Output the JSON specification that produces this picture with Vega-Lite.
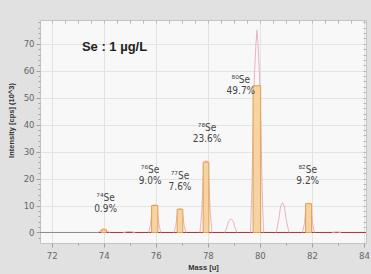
{
  "$schema": "https://vega.github.io/schema/vega-lite/v6.json",
  "autosize": {"type": "none"},
  "width": 326,
  "height": 223,
  "padding": {"left": 40, "top": 20, "right": 5, "bottom": 31},
  "background": "#e1e1e1",
  "config": {
    "view": {"fill": "#f8f8f8", "stroke": "#c4c4c4"},
    "axis": {
      "labelFont": "Liberation Sans Narrow, DejaVu Sans Condensed, sans-serif",
      "labelFontSize": 9.5,
      "labelColor": "#666666",
      "labelOverlap": false,
      "tickColor": "#a0a0a0",
      "tickSize": 3,
      "gridColor": "#e3e3e3",
      "domain": false,
      "titleFont": "Liberation Sans",
      "titleFontWeight": "bold",
      "titleFontSize": 7.5,
      "titleColor": "#333333"
    }
  },
  "resolve": {"axis": {"x": "independent", "y": "independent"}},
  "datasets": {
    "profile": [
      {"peak": "74", "mass": 73.77, "cps": 0}, {"peak": "74", "mass": 73.86, "cps": 0.6}, {"peak": "74", "mass": 73.95, "cps": 1.4}, {"peak": "74", "mass": 74.05, "cps": 1.3}, {"peak": "74", "mass": 74.15, "cps": 0.5}, {"peak": "74", "mass": 74.23, "cps": 0},
      {"peak": "75", "mass": 74.75, "cps": 0}, {"peak": "75", "mass": 74.9, "cps": 0.35}, {"peak": "75", "mass": 75.05, "cps": 0.35}, {"peak": "75", "mass": 75.2, "cps": 0},
      {"peak": "76", "mass": 75.73, "cps": 0}, {"peak": "76", "mass": 75.8, "cps": 3}, {"peak": "76", "mass": 75.86, "cps": 8.3}, {"peak": "76", "mass": 75.91, "cps": 10.2}, {"peak": "76", "mass": 76.01, "cps": 10.2}, {"peak": "76", "mass": 76.06, "cps": 8.3}, {"peak": "76", "mass": 76.12, "cps": 3}, {"peak": "76", "mass": 76.19, "cps": 0},
      {"peak": "77", "mass": 76.7, "cps": 0}, {"peak": "77", "mass": 76.77, "cps": 2.6}, {"peak": "77", "mass": 76.83, "cps": 7}, {"peak": "77", "mass": 76.88, "cps": 8.8}, {"peak": "77", "mass": 76.98, "cps": 8.8}, {"peak": "77", "mass": 77.03, "cps": 7}, {"peak": "77", "mass": 77.09, "cps": 2.6}, {"peak": "77", "mass": 77.16, "cps": 0},
      {"peak": "78", "mass": 77.7, "cps": 0}, {"peak": "78", "mass": 77.77, "cps": 8}, {"peak": "78", "mass": 77.83, "cps": 21.5}, {"peak": "78", "mass": 77.88, "cps": 26.5}, {"peak": "78", "mass": 77.98, "cps": 26.5}, {"peak": "78", "mass": 78.03, "cps": 21.5}, {"peak": "78", "mass": 78.09, "cps": 8}, {"peak": "78", "mass": 78.16, "cps": 0},
      {"peak": "79", "mass": 78.65, "cps": 0}, {"peak": "79", "mass": 78.73, "cps": 1.8}, {"peak": "79", "mass": 78.8, "cps": 4.2}, {"peak": "79", "mass": 78.86, "cps": 4.9}, {"peak": "79", "mass": 78.92, "cps": 4.8}, {"peak": "79", "mass": 78.99, "cps": 3.8}, {"peak": "79", "mass": 79.05, "cps": 1.6}, {"peak": "79", "mass": 79.12, "cps": 0},
      {"peak": "80", "mass": 79.64, "cps": 0}, {"peak": "80", "mass": 79.7, "cps": 18}, {"peak": "80", "mass": 79.75, "cps": 45}, {"peak": "80", "mass": 79.8, "cps": 60}, {"peak": "80", "mass": 79.85, "cps": 70}, {"peak": "80", "mass": 79.89, "cps": 75}, {"peak": "80", "mass": 79.93, "cps": 70}, {"peak": "80", "mass": 79.98, "cps": 60}, {"peak": "80", "mass": 80.04, "cps": 40}, {"peak": "80", "mass": 80.09, "cps": 15}, {"peak": "80", "mass": 80.14, "cps": 0},
      {"peak": "81", "mass": 80.63, "cps": 0}, {"peak": "81", "mass": 80.72, "cps": 4.5}, {"peak": "81", "mass": 80.8, "cps": 9.8}, {"peak": "81", "mass": 80.87, "cps": 11}, {"peak": "81", "mass": 80.94, "cps": 9.8}, {"peak": "81", "mass": 81.02, "cps": 4.5}, {"peak": "81", "mass": 81.12, "cps": 0},
      {"peak": "82", "mass": 81.64, "cps": 0}, {"peak": "82", "mass": 81.71, "cps": 3.2}, {"peak": "82", "mass": 81.77, "cps": 8.8}, {"peak": "82", "mass": 81.82, "cps": 10.8}, {"peak": "82", "mass": 81.92, "cps": 10.8}, {"peak": "82", "mass": 81.97, "cps": 8.8}, {"peak": "82", "mass": 82.03, "cps": 3.2}, {"peak": "82", "mass": 82.1, "cps": 0},
      {"peak": "83", "mass": 82.78, "cps": 0}, {"peak": "83", "mass": 82.95, "cps": 0.3}, {"peak": "83", "mass": 83.12, "cps": 0}
    ],
    "baseline": [
      {"mass": 73.8, "cps": 0}, {"mass": 84.2, "cps": 0}
    ],
    "zero": [
      {"mass": 71.55, "cps": 0}, {"mass": 84.08, "cps": 0}
    ],
    "bars": [
      {"iso": "74", "lo": 73.9, "hi": 74.1, "base": 0, "cps": 1.0},
      {"iso": "76", "lo": 75.84, "hi": 76.08, "base": 0, "cps": 10.0},
      {"iso": "77", "lo": 76.82, "hi": 77.04, "base": 0, "cps": 8.6},
      {"iso": "78", "lo": 77.82, "hi": 78.04, "base": 0, "cps": 26.1},
      {"iso": "80", "lo": 79.74, "hi": 80.03, "base": 0, "cps": 54.4},
      {"iso": "82", "lo": 81.76, "hi": 81.99, "base": 0, "cps": 10.7}
    ],
    "labels": [
      {"iso": "⁷⁴Se", "pct": "0.9%", "mass": 74.07, "ylab": 12.8, "ypct": 8.8},
      {"iso": "⁷⁶Se", "pct": "9.0%", "mass": 75.78, "ylab": 23.2, "ypct": 19.2},
      {"iso": "⁷⁷Se", "pct": "7.6%", "mass": 76.93, "ylab": 21.0, "ypct": 17.0},
      {"iso": "⁷⁸Se", "pct": "23.6%", "mass": 77.97, "ylab": 38.8, "ypct": 34.6},
      {"iso": "⁸⁰Se", "pct": "49.7%", "mass": 79.27, "ylab": 56.4, "ypct": 52.3},
      {"iso": "⁸²Se", "pct": "9.2%", "mass": 81.84, "ylab": 23.2, "ypct": 19.2}
    ],
    "title": [
      {"text": "Se : 1 µg/L", "mass": 73.16, "cps": 68.8}
    ]
  },
  "layer": [
    {
      "data": {"name": "zero"},
      "mark": {"type": "line", "color": "#8a8a8a", "strokeWidth": 1},
      "encoding": {
        "x": {
          "field": "mass", "type": "quantitative",
          "scale": {"domain": [71.55, 84.08], "nice": false, "zero": false},
          "axis": {
            "values": [71.5, 72, 72.5, 73, 73.5, 74, 74.5, 75, 75.5, 76, 76.5, 77, 77.5, 78, 78.5, 79, 79.5, 80, 80.5, 81, 81.5, 82, 82.5, 83, 83.5, 84],
            "format": "d",
            "labelExpr": "datum.value % 2 === 0 ? datum.label : ''",
            "tickSize": {"condition": {"test": "datum.value % 2 === 0", "value": 4}, "value": 2},
            "gridOpacity": {"condition": {"test": "datum.value % 2 === 0", "value": 1}, "value": 0},
            "title": "Mass [u]", "labelPadding": 3, "titlePadding": 4
          }
        },
        "y": {
          "field": "cps", "type": "quantitative",
          "scale": {"domain": [-3.9, 78.8], "nice": false, "zero": false},
          "axis": {
            "values": [-2, 0, 2, 4, 6, 8, 10, 12, 14, 16, 18, 20, 22, 24, 26, 28, 30, 32, 34, 36, 38, 40, 42, 44, 46, 48, 50, 52, 54, 56, 58, 60, 62, 64, 66, 68, 70, 72, 74, 76, 78],
            "format": "d",
            "labelExpr": "datum.value % 10 === 0 ? datum.label : ''",
            "tickSize": {"condition": {"test": "datum.value % 10 === 0", "value": 4}, "value": 2},
            "gridOpacity": {"condition": {"test": "datum.value % 10 === 0", "value": 1}, "value": 0},
            "title": "Intensity [cps] (10^3)", "labelPadding": 2, "titleY": 100, "titleX": -25
          }
        }
      }
    },
    {
      "data": {"name": "baseline"},
      "mark": {"type": "line", "color": "#a53a3a", "strokeWidth": 1, "clip": true},
      "encoding": {
        "x": {"field": "mass", "type": "quantitative",
          "axis": {"orient": "top", "values": [72, 72.5, 73, 73.5, 74, 74.5, 75, 75.5, 76, 76.5, 77, 77.5, 78, 78.5, 79, 79.5, 80, 80.5, 81, 81.5, 82, 82.5, 83, 83.5, 84], "labels": false, "grid": false, "title": null, "tickSize": -3, "tickColor": "#b8b8b8"}},
        "y": {"field": "cps", "type": "quantitative",
          "axis": {"orient": "right", "values": [0, 2, 4, 6, 8, 10, 12, 14, 16, 18, 20, 22, 24, 26, 28, 30, 32, 34, 36, 38, 40, 42, 44, 46, 48, 50, 52, 54, 56, 58, 60, 62, 64, 66, 68, 70, 72, 74, 76, 78], "labels": false, "grid": false, "title": null, "tickSize": -3, "tickColor": "#b8b8b8"}}
      }
    },
    {
      "data": {"name": "profile"},
      "mark": {"type": "line", "color": "#eab3c0", "strokeWidth": 1},
      "encoding": {"x": {"field": "mass", "type": "quantitative", "axis": null}, "y": {"field": "cps", "type": "quantitative", "axis": null}, "detail": {"field": "peak"}}
    },
    {
      "data": {"name": "bars"},
      "mark": {"type": "rect", "fill": "#f6d3a0", "stroke": "#e0a050", "strokeWidth": 1},
      "encoding": {"x": {"field": "lo", "type": "quantitative", "axis": null}, "x2": {"field": "hi"}, "y": {"field": "base", "type": "quantitative", "axis": null}, "y2": {"field": "cps"}}
    },
    {
      "data": {"name": "labels"},
      "mark": {"type": "text", "font": "Liberation Sans Narrow, DejaVu Sans Condensed, sans-serif", "fontSize": 10, "color": "#444444"},
      "encoding": {"x": {"field": "mass", "type": "quantitative", "axis": null}, "y": {"field": "ylab", "type": "quantitative", "axis": null}, "text": {"field": "iso"}}
    },
    {
      "data": {"name": "labels"},
      "mark": {"type": "text", "font": "Liberation Sans Narrow, DejaVu Sans Condensed, sans-serif", "fontSize": 10, "color": "#444444"},
      "encoding": {"x": {"field": "mass", "type": "quantitative", "axis": null}, "y": {"field": "ypct", "type": "quantitative", "axis": null}, "text": {"field": "pct"}}
    },
    {
      "data": {"name": "title"},
      "mark": {"type": "text", "font": "Liberation Sans", "fontWeight": "bold", "fontSize": 13, "color": "#222222", "align": "left"},
      "encoding": {"x": {"field": "mass", "type": "quantitative", "axis": null}, "y": {"field": "cps", "type": "quantitative", "axis": null}, "text": {"field": "text"}}
    }
  ]
}
